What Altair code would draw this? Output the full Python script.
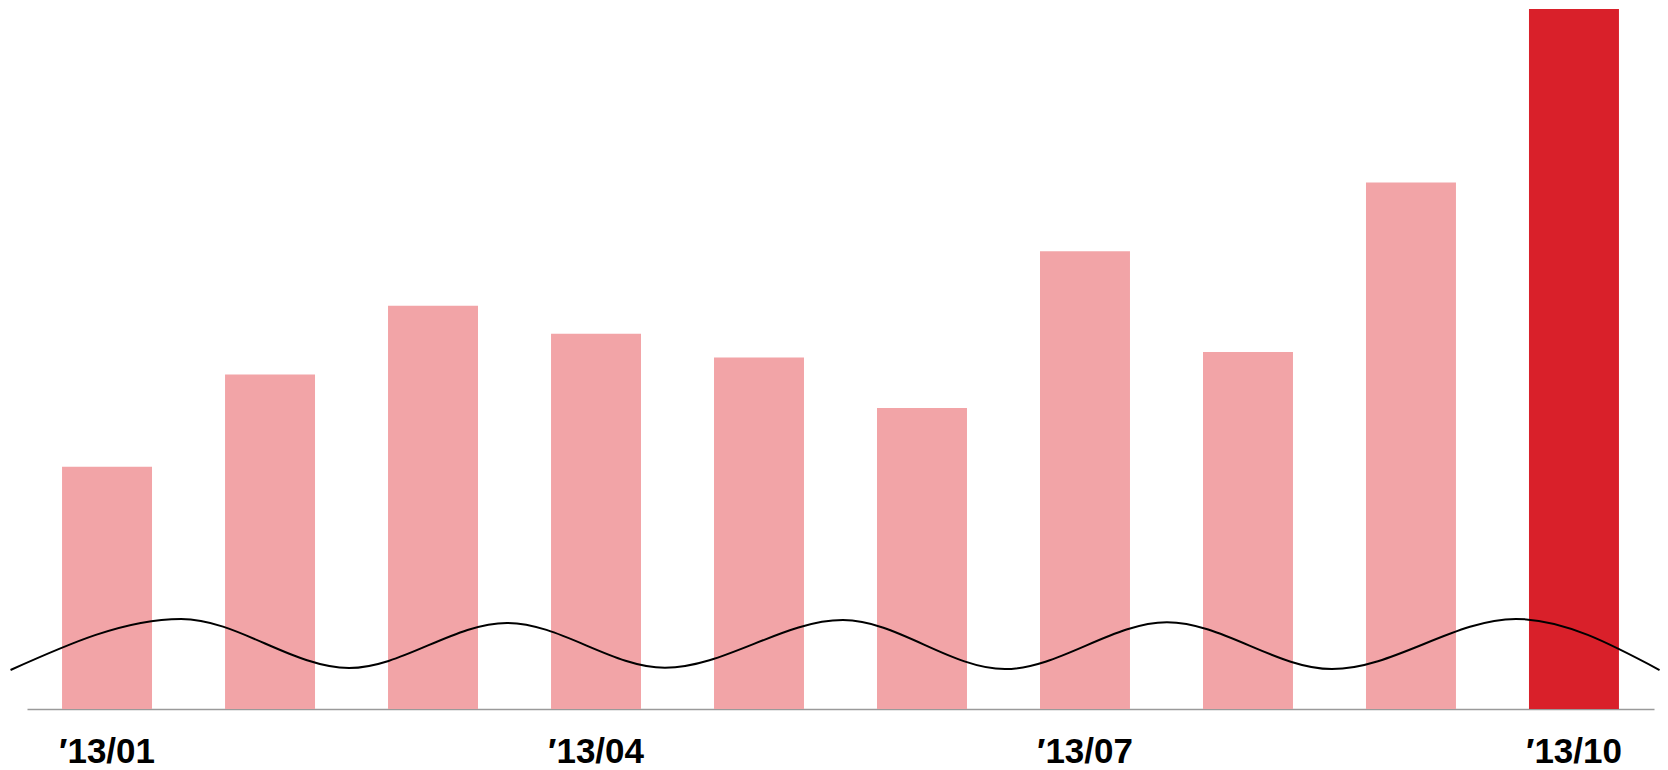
import altair as alt
import pandas as pd

# Monthly values (latest month highlighted)
months = ["′13/01", "′13/02", "′13/03", "′13/04", "′13/05",
          "′13/06", "′13/07", "′13/08", "′13/09", "′13/10"]
values = [34.6, 47.8, 57.6, 53.6, 50.2, 43.0, 65.4, 51.0, 75.2, 100.0]
labeled_months = ["′13/01", "′13/04", "′13/07", "′13/10"]

# Axis-break wave: x in bar-slot units (bar i centred at i), y in value units
wave_x = [-0.592, 0.454, 1.485, 2.454, 3.423, 4.515, 5.509, 6.503, 7.515, 8.644, 9.525]
wave_y = [5.57, 12.86, 5.86, 12.3, 5.9, 12.7, 5.71, 12.4, 5.71, 12.86, 5.57]

bars_df = pd.DataFrame({"month": months, "value": values})
wave_df = pd.DataFrame({"pos": wave_x, "level": wave_y})

PINK = "#F2A4A7"
RED = "#D9202A"
N = len(months)
PAD_INNER = 0.448
PAD_OUTER = 0.215
# half a slot plus outer padding, in slot units
edge = PAD_OUTER + (1 - PAD_INNER) / 2

y_scale = alt.Scale(domain=[0, 100], nice=False, zero=True)

bars = alt.Chart(bars_df).mark_bar().encode(
    x=alt.X(
        "month:N",
        sort=None,
        scale=alt.Scale(paddingInner=PAD_INNER, paddingOuter=PAD_OUTER),
        axis=alt.Axis(
            title=None,
            values=labeled_months,
            labelAngle=0,
            ticks=False,
            tickSize=0,
            domain=True,
            domainColor="#9a9a9a",
            domainWidth=1.5,
            labelFont="Liberation Sans",
            labelFontSize=35,
            labelFontWeight="bold",
            labelColor="#000000",
            labelBaseline="alphabetic",
            labelPadding=53.5,
            grid=False,
        ),
    ),
    y=alt.Y("value:Q", scale=y_scale, axis=None),
    color=alt.condition(alt.datum.month == months[-1], alt.value(RED), alt.value(PINK)),
)

wave = alt.Chart(wave_df).mark_line(
    color="#000000", strokeWidth=2, interpolate="monotone"
).encode(
    x=alt.X("pos:Q", scale=alt.Scale(domain=[-edge, N - 1 + edge], nice=False, zero=False), axis=None),
    y=alt.Y("level:Q", scale=y_scale, axis=None),
    order="pos:Q",
)

chart = alt.layer(bars, wave).resolve_scale(x="independent").properties(
    width=1627,
    height=700,
    autosize=alt.AutoSizeParams(type="none"),
    padding={"left": 27, "top": 9, "right": 14, "bottom": 61},
    background="#ffffff",
).configure_view(stroke=None)

chart.save("out.html", embed_options={"renderer": "svg", "actions": False})
